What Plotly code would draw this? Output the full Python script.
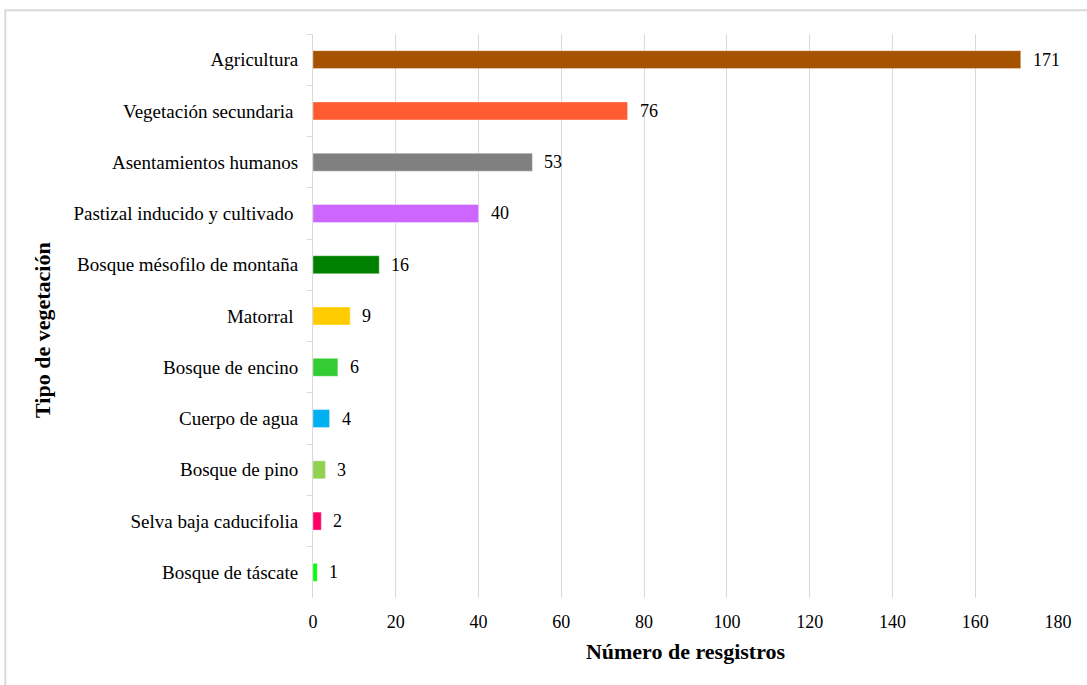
import plotly.graph_objects as go

categories = [
    "Agricultura",
    "Vegetación secundaria ",
    "Asentamientos humanos",
    "Pastizal inducido y cultivado ",
    "Bosque mésofilo de montaña",
    "Matorral ",
    "Bosque de encino",
    "Cuerpo de agua",
    "Bosque de pino",
    "Selva baja caducifolia",
    "Bosque de táscate",
]
values = [171, 76, 53, 40, 16, 9, 6, 4, 3, 2, 1]
colors = [
    "#A65300", "#FF5B31", "#808080", "#CC66FF", "#008000", "#FFCC00",
    "#33CC33", "#00B0F0", "#92D050", "#FF0066", "#00FF00",
]
x_ticks = [0, 20, 40, 60, 80, 100, 120, 140, 160, 180]

font_family = "Liberation Serif, Times New Roman, serif"

fig = go.Figure(
    go.Bar(
        x=values,
        y=categories,
        orientation="h",
        width=0.35,
        marker=dict(color=colors, line=dict(color="rgba(255,255,255,0.35)", width=1)),
        hoverinfo="x+y",
    )
)

# value labels to the right of each bar
for cat, val in zip(categories, values):
    fig.add_annotation(
        x=val, y=cat, text=str(val), showarrow=False,
        xanchor="left", xshift=10,
        font=dict(family=font_family, size=18, color="#000000"),
    )

# vertical axis title
fig.add_annotation(
    text="<b>Tipo de vegetación</b>", textangle=-90,
    xref="paper", yref="paper", x=-0.364, y=0.475,
    xanchor="center", yanchor="middle", showarrow=False,
    font=dict(family=font_family, size=22, color="#000000"),
)

# outer chart frame
fig.add_shape(
    type="rect", xref="paper", yref="paper",
    x0=-0.413, x1=1.1, y0=-0.2, y1=1.042,
    line=dict(color="#D9D9D9", width=2), layer="below",
)

fig.update_layout(
    width=1087, height=685,
    margin=dict(l=313, r=29, t=34, b=87),
    paper_bgcolor="white", plot_bgcolor="white",
    showlegend=False,
    font=dict(family=font_family, size=19, color="#000000"),
    xaxis=dict(
        range=[0, 180],
        tickvals=x_ticks,
        showgrid=True, gridcolor="#D9D9D9", gridwidth=1,
        zeroline=False, showline=False,
        ticks="", tickfont=dict(size=18),
        ticklabelstandoff=11,
        title=dict(text="<b>Número de resgistros</b>", font=dict(size=22), standoff=12),
    ),
    yaxis=dict(
        autorange="reversed",
        showline=True, linecolor="#D9D9D9", linewidth=1,
        ticks="outside", tickson="boundaries", ticklen=5, tickcolor="#D9D9D9",
        ticklabelstandoff=10,
        showgrid=False, zeroline=False,
        tickfont=dict(size=19),
    ),
)

fig.write_html("out.html")
